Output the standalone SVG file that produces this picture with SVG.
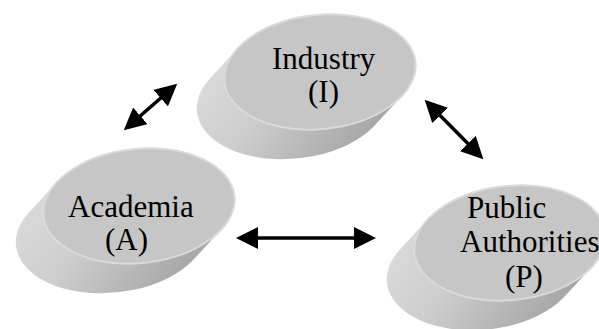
<svg xmlns="http://www.w3.org/2000/svg" width="599" height="329" viewBox="0 0 599 329">
<style>
.lbl{font-size:31px;fill:#000}
.face{fill:#c6c6c6;stroke:#dadada;stroke-width:2}
.body{fill:url(#bodyGrad)}
.conn{stroke:#000;stroke-width:3.5;fill:none;marker-start:url(#head);marker-end:url(#head)}
</style>
<defs>
<linearGradient id="bodyGrad" x1="0" y1="0.3" x2="1" y2="0.8">
<stop offset="0" stop-color="#dadada"/>
<stop offset="0.35" stop-color="#cdcdcd"/>
<stop offset="1" stop-color="#9e9e9e"/>
</linearGradient>
<marker id="head" viewBox="0 0 22 22" markerWidth="22" markerHeight="22" refX="1" refY="11" orient="auto-start-reverse" markerUnits="userSpaceOnUse">
<path d="M0,0 L22,11 L0,22 Z" fill="#000"/>
</marker>
<g id="disc">
<path class="body" d="M -79.4,-32 L -111.4,-4 A 96 57 0 0 0 47.4,60 L 79.4,32 A 96 57 0 0 1 -79.4,-32 Z"/>
<ellipse class="face" cx="0" cy="0" rx="96" ry="57"/>
</g>
</defs>
<g id="connectors">
<line class="conn" x1="139.6" y1="116.5" x2="161.4" y2="97.5"/>
<line class="conn" x1="257" y1="238" x2="355" y2="238"/>
<line class="conn" x1="439.4" y1="114.7" x2="468.6" y2="144.3"/>
</g>
<g font-family="Liberation Serif, Times New Roman, DejaVu Serif, serif">
<g id="industry">
<use href="#disc" transform="translate(320,72) rotate(-6)"/>
<text class="lbl" x="272" y="69">Industry</text>
<text class="lbl" x="308" y="102">(I)</text>
</g>
<g id="academia">
<use href="#disc" transform="translate(139,206) rotate(-6)"/>
<text class="lbl" x="68" y="217">Academia</text>
<text class="lbl" x="105" y="250">(A)</text>
</g>
<g id="public-authorities">
<use href="#disc" transform="translate(510,243) rotate(-6)"/>
<text class="lbl" x="467" y="218">Public</text>
<text class="lbl" x="460" y="252">Authorities</text>
<text class="lbl" x="505" y="287">(P)</text>
</g>
</g>
</svg>
